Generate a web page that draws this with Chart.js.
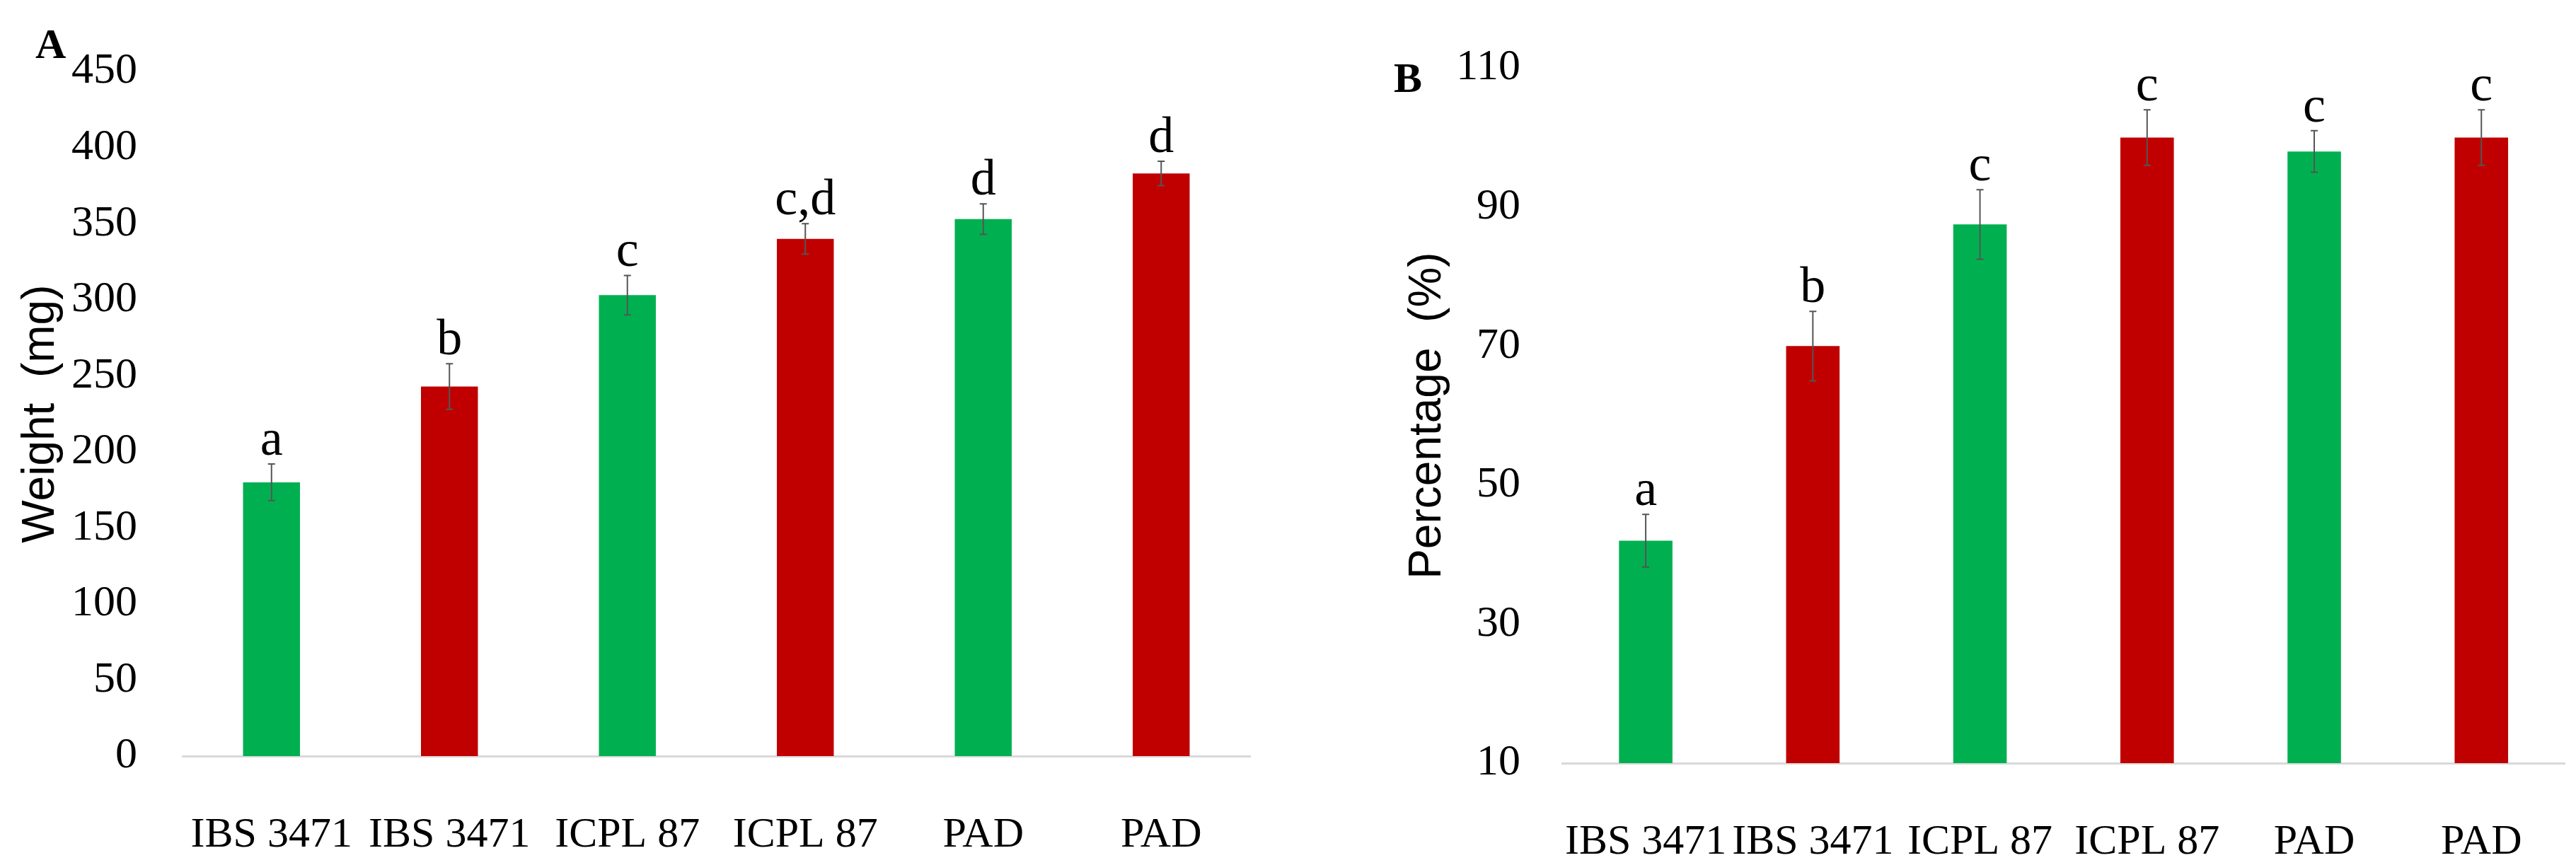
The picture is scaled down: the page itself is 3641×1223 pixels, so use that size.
<!DOCTYPE html>
<html>
<head>
<meta charset="utf-8">
<script src="https://cdn.jsdelivr.net/npm/chart.js@4"></script>
<style>
  body { margin: 0; background: #fff; width: 3641px; height: 1223px; position: relative; overflow: hidden; }
  .panel { position: absolute; top: 0; height: 1223px; }
  .tag { position: absolute; font-family: "Liberation Serif", serif; font-weight: bold; font-size: 60px; color: #000; }
</style>
</head>
<body>
<div class="panel" style="left:0;width:1800px"><canvas id="chartA"></canvas></div>
<div class="panel" style="left:1820px;width:1821px"><canvas id="chartB"></canvas></div>
<div class="tag" style="left:50px;top:28px">A</div>
<div class="tag" style="left:1970px;top:76px">B</div>
<script>
// categories
const cultivars = ["IBS 3471", "IBS 3471", "ICPL 87", "ICPL 87", "PAD", "PAD"];
const barColors = ["#00B050", "#C00000", "#00B050", "#C00000", "#00B050", "#C00000"];

// panel A: weight (mg)
const weightVals = [180, 243, 303, 340, 353, 383];
const weightErr = [12, 15, 13, 10, 10, 8];
const weightLetters = ["a", "b", "c", "c,d", "d", "d"];

// panel B: percentage (%)
const pctVals = [42, 70, 87.5, 100, 98, 100];
const pctErr = [3.8, 5, 5, 4, 3, 4];
const pctLetters = ["a", "b", "c", "c", "c", "c"];

const serif = "'Liberation Serif', serif";

const errorBarsPlugin = {
    id: "errorBars",
    afterDatasetsDraw(chart, args, opts) {
        const ctx = chart.ctx;
        const y = chart.scales.y;
        const meta = chart.getDatasetMeta(0);
        ctx.save();
        meta.data.forEach((bar, i) => {
            const v = opts.values[i], e = opts.errors[i];
            const top = y.getPixelForValue(v + e);
            const bot = y.getPixelForValue(v - e);
            ctx.strokeStyle = "#555";
            ctx.lineWidth = 2;
            ctx.beginPath();
            ctx.moveTo(bar.x, top); ctx.lineTo(bar.x, bot);
            ctx.moveTo(bar.x - 5, top); ctx.lineTo(bar.x + 5, top);
            ctx.moveTo(bar.x - 5, bot); ctx.lineTo(bar.x + 5, bot);
            ctx.stroke();
            ctx.fillStyle = "#000";
            ctx.font = "72px " + serif;
            ctx.textAlign = "center";
            ctx.textBaseline = "bottom";
            ctx.fillText(opts.letters[i], bar.x, top + 4);
        });
        ctx.restore();
    }
};

function makeChart(id, vals, errs, letters, yCfg, layout) {
    new Chart(document.getElementById(id), {
        type: "bar",
        data: {
            labels: cultivars,
            datasets: [{
                data: vals,
                backgroundColor: barColors,
                categoryPercentage: 1,
                barPercentage: 0.32
            }]
        },
        options: {
            responsive: true,
            maintainAspectRatio: false,
            animation: false,
            layout: { padding: layout.padding },
            plugins: {
                legend: { display: false },
                tooltip: { enabled: false },
                errorBars: { values: vals, errors: errs, letters: letters }
            },
            scales: {
                x: {
                    grid: { display: false, drawTicks: false },
                    border: { color: "#d9d9d9", width: 3 },
                    ticks: { color: "#000", font: { family: serif, size: 60 }, padding: layout.xPad, maxRotation: 0 },
                    afterFit: s => { s.height = layout.xHeight; }
                },
                y: {
                    min: yCfg.min, max: yCfg.max,
                    grid: { display: false, drawTicks: false },
                    border: { display: false },
                    ticks: { stepSize: yCfg.step, color: "#000", font: { family: serif, size: 62 }, padding: layout.yPad },
                    title: { display: true, text: yCfg.title, color: "#000", font: { family: "'Liberation Sans', sans-serif", size: 64 }, padding: 0 },
                    afterFit: s => { s.width = layout.yWidth; }
                }
            }
        },
        plugins: [errorBarsPlugin]
    });
}

makeChart("chartA", weightVals, weightErr, weightLetters,
    { min: 0, max: 450, step: 50, title: "Weight  (mg)" },
    { padding: { left: 20, right: 33, top: 67, bottom: 0 }, xPad: 76, xHeight: 154, yPad: 64, yWidth: 238 });

makeChart("chartB", pctVals, pctErr, pctLetters,
    { min: 10, max: 110, step: 20, title: "Percentage  (%)" },
    { padding: { left: 160, right: 6, top: 93, bottom: 0 }, xPad: 76, xHeight: 144, yPad: 59, yWidth: 228 });
</script>
</body>
</html>
